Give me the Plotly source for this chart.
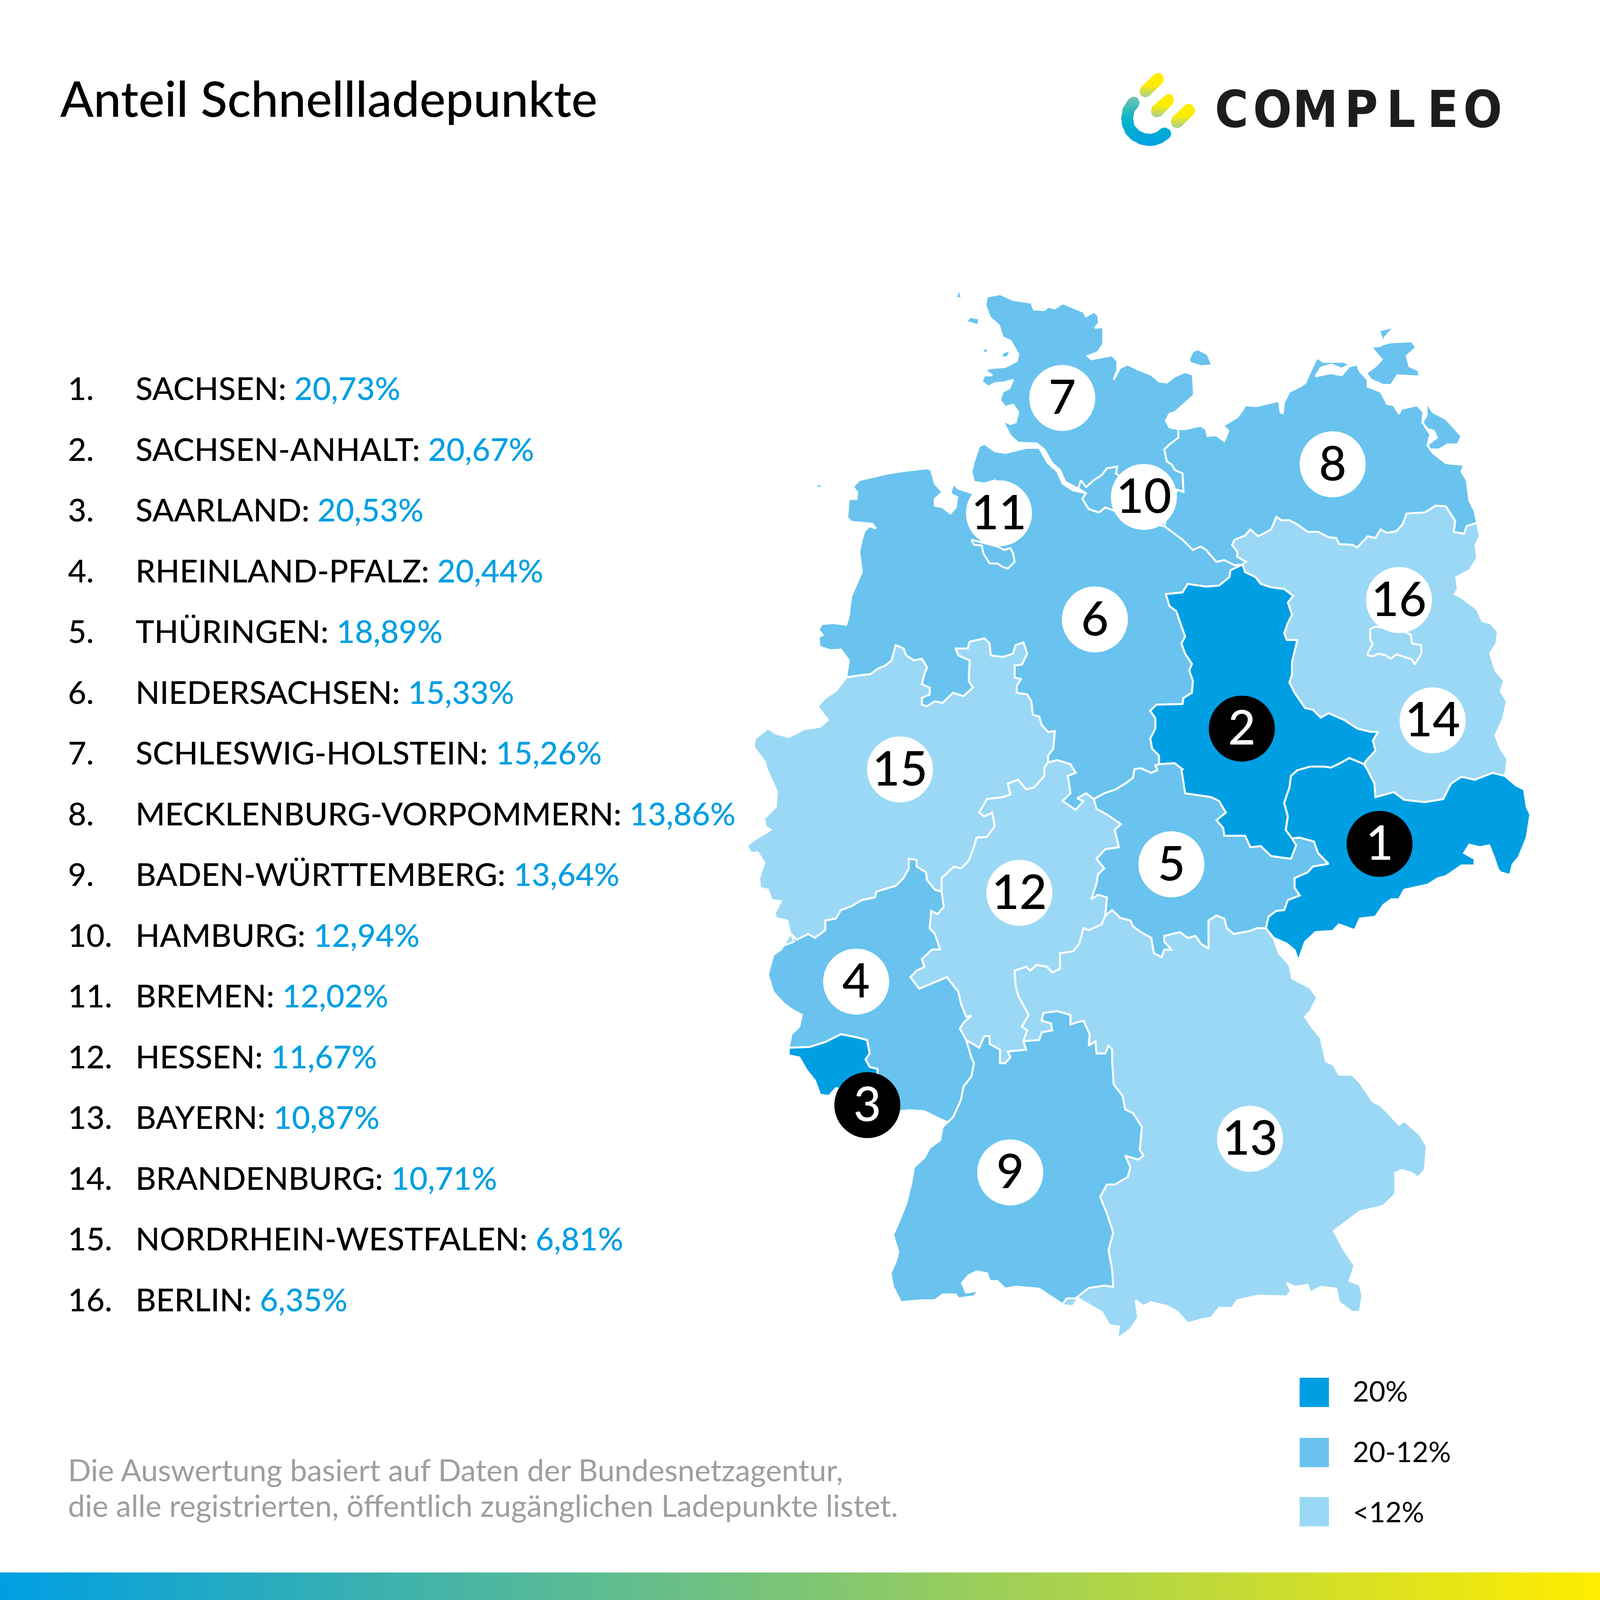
import plotly.graph_objects as go

# ranking
STATES = ["SACHSEN", "SACHSEN-ANHALT", "SAARLAND", "RHEINLAND-PFALZ", "THÜRINGEN", "NIEDERSACHSEN",
          "SCHLESWIG-HOLSTEIN", "MECKLENBURG-VORPOMMERN", "BADEN-WÜRTTEMBERG", "HAMBURG", "BREMEN",
          "HESSEN", "BAYERN", "BRANDENBURG", "NORDRHEIN-WESTFALEN", "BERLIN"]
SHARES = [20.73, 20.67, 20.53, 20.44, 18.89, 15.33, 15.26, 13.86, 13.64, 12.94, 12.02, 11.67, 10.87, 10.71, 6.81, 6.35]
# map class of each land, as the map shows it (Rheinland-Pfalz is in the middle class there)
CLASSES = [0, 0, 0, 1, 1, 1, 1, 1, 1, 1, 1, 2, 2, 2, 2, 2]
LEGEND_LABELS = ["20%", "20-12%", "<12%"]
LOGO_LETTERS = ["C", "O", "M", "P", "L", "E", "O"]

# page is measured in units of 1568 across
CLASS_COLORS = ["#009FE3", "#69C3EE", "#9BD8F6"]
NUMBER_X = [1352, 1217, 850, 839, 1148, 1073, 1041, 1306, 990, 1121, 979, 999, 1225, 1404, 882, 1371]
NUMBER_Y = [827, 714, 1083, 962, 847, 607, 390, 455, 1149, 487, 503, 875, 1116, 706, 754, 588]
LOGO_X = [1207, 1247, 1289, 1334, 1373, 1414, 1453]


# outlines were traced on two crops of the map, these put them on the page
def north(pts):
    return [(714.3 + 0.511 * x, 243.9 + y / 3) for x, y in pts]


def south(pts):
    return [(714.3 + 0.511 * x, 749.1 + 0.3778 * y) for x, y in pts]


def logo(pts):
    return [(1062.7 + 0.2889 * x, 52.3 + 0.1161 * y) for x, y in pts]


SH_COAST = north([(605, 590), (590, 572), (555, 570), (540, 550), (525, 505), (540, 515), (550, 510), (555, 480), (545, 458), (530, 465), (520, 445), (525, 420), (538, 410), (545, 385), (530, 392), (510, 395), (497, 405), (485, 390), (490, 372), (505, 372), (490, 355), (505, 350), (530, 347), (552, 330), (555, 310), (540, 270), (525, 260), (518, 225), (500, 200), (492, 165), (495, 140), (520, 133), (545, 150), (580, 158), (585, 178), (605, 180), (612, 170), (625, 175), (640, 160), (660, 172), (680, 185), (685, 198), (700, 185), (708, 195), (710, 218), (702, 232), (718, 230), (718, 280), (708, 303), (688, 315), (695, 325), (735, 313), (745, 330), (745, 355), (738, 385), (750, 350), (765, 340), (785, 355), (810, 370), (825, 390), (840, 393), (855, 375), (875, 362), (890, 370), (892, 430), (870, 460), (855, 480), (845, 485), (838, 505), (845, 525), (862, 530)])
SH_MV = north([(862, 530), (862, 555), (845, 575), (835, 590), (840, 625), (850, 635), (855, 650), (870, 660), (872, 715)])
SH_SOUTH = north([(872, 715), (860, 708), (845, 760), (835, 815)])
ELBE_HH = north([(835, 815), (790, 805), (740, 770), (722, 760), (710, 775), (690, 765), (678, 735), (685, 718)])
SH_ELBE = north([(685, 718), (670, 705), (645, 685), (635, 650), (620, 630), (605, 590)])
FEHMARN = north([(882, 325), (890, 300), (900, 295), (918, 310), (927, 342), (905, 345), (885, 335)])
SYLT = north([(455, 70), (445, 100), (435, 145), (462, 143), (445, 138), (442, 115)])
FOEHR = north([(455, 215), (462, 200), (480, 205), (478, 225), (465, 218)])
AMRUM = north([(438, 232), (445, 250), (442, 236)])
PELLWORM = north([(488, 295), (498, 290), (495, 305), (488, 308)])
NORDSTRAND = north([(525, 305), (540, 298), (535, 318), (522, 320)])
HAMBURG = north([(675, 680), (685, 700), (700, 680), (715, 665), (725, 645), (745, 640), (742, 660), (755, 675), (790, 720), (740, 770), (722, 760), (710, 775), (690, 765), (678, 735), (685, 718), (670, 705)])
BREMEN = north([(465, 855), (470, 870), (485, 872), (488, 895), (500, 925), (515, 925), (525, 935), (535, 940), (548, 920), (545, 895), (540, 880), (528, 885), (515, 875)])
NDS_COAST = north([(685, 718), (660, 710), (640, 690), (630, 655), (612, 630), (595, 585), (570, 585), (550, 592), (530, 600), (510, 595), (490, 573), (480, 580), (470, 625), (465, 655), (470, 685), (490, 690), (512, 680), (470, 720), (440, 705), (430, 690), (425, 720), (438, 730), (435, 760), (425, 778), (410, 760), (395, 755), (395, 735), (410, 715), (395, 690), (388, 650), (380, 645), (325, 655), (300, 662), (250, 680), (238, 700), (246, 715), (245, 735), (230, 735), (227, 790), (235, 803), (275, 808), (282, 822), (270, 815), (260, 830), (255, 855), (250, 890), (255, 950), (235, 1020), (232, 1050), (230, 1080), (225, 1105), (200, 1100), (178, 1103), (172, 1120), (180, 1135), (172, 1142), (174, 1170), (195, 1180), (215, 1178), (230, 1210), (225, 1260)])
FRISIAN = [north([(248, 648), (272, 642), (295, 642), (272, 648)]), north([(300, 632), (320, 628), (303, 638)]), north([(336, 622), (350, 620), (342, 626)]), north([(165, 695), (185, 688), (172, 705)])]
NDS_NRW = north([(225, 1260), (245, 1255), (272, 1250), (285, 1235), (300, 1225), (312, 1210), (320, 1165), (335, 1175), (340, 1195), (355, 1210), (370, 1205), (380, 1230), (375, 1250), (370, 1280), (385, 1290), (385, 1310), (370, 1320), (370, 1340), (380, 1345), (395, 1330), (410, 1335), (430, 1305), (450, 1315), (468, 1290), (460, 1270), (462, 1210), (440, 1195), (435, 1175), (458, 1175), (462, 1155), (490, 1145), (500, 1160), (502, 1195), (525, 1200), (545, 1190), (550, 1165), (565, 1157), (572, 1190), (562, 1222), (548, 1225), (548, 1260), (560, 1265), (552, 1285), (552, 1305), (572, 1310), (580, 1330), (583, 1370), (595, 1375), (600, 1400), (612, 1420), (625, 1418), (622, 1470), (612, 1490), (612, 1510)])
NDS_HE = north([(612, 1510), (630, 1503), (655, 1515), (665, 1540)]) + south([(650, 30), (655, 75), (640, 95), (665, 118), (680, 95), (668, 88), (685, 75), (700, 90)])
NDS_TH = south([(700, 90), (720, 75), (742, 65), (760, 50), (775, 35), (778, 12), (790, 10), (810, 22), (822, 15), (818, 3)])
NDS_ST = north([(825, 1515), (825, 1490), (812, 1470), (808, 1440), (818, 1410), (818, 1380), (808, 1358), (820, 1340), (870, 1338), (872, 1320), (888, 1305), (890, 1270), (883, 1240), (888, 1220), (875, 1190), (868, 1160), (875, 1140), (868, 1110), (858, 1065), (845, 1050), (838, 1015), (870, 1010), (880, 985), (915, 993), (940, 990), (960, 965), (962, 945), (985, 928)])
NDS_EAST = north([(985, 928), (970, 930), (950, 915), (935, 920), (915, 885), (905, 875), (890, 885), (870, 855), (835, 815)])
MV_COAST = north([(862, 530), (875, 530), (905, 520), (915, 530), (918, 550), (935, 548), (950, 565), (958, 535), (948, 520), (965, 505), (975, 495), (985, 475), (990, 460), (1012, 462), (1055, 447), (1058, 480), (1062, 483), (1065, 450), (1075, 420), (1095, 405), (1105, 395), (1120, 345), (1128, 320), (1140, 332), (1178, 332), (1192, 340), (1175, 352), (1155, 340), (1135, 350), (1125, 375), (1155, 365), (1175, 372), (1190, 345), (1205, 340), (1210, 360), (1225, 385), (1225, 405), (1250, 420), (1262, 455), (1275, 460), (1285, 485), (1290, 470), (1320, 460), (1332, 480), (1330, 510), (1345, 545), (1340, 578), (1350, 600), (1375, 630), (1410, 635), (1405, 655), (1415, 680), (1420, 740), (1430, 770), (1435, 805)])
RUEGEN = north([(1247, 240), (1277, 229), (1258, 260), (1252, 282), (1268, 275), (1310, 272), (1318, 290), (1300, 315), (1305, 345), (1322, 357), (1325, 375), (1282, 372), (1270, 400), (1255, 400), (1232, 385), (1222, 365), (1240, 345), (1252, 325), (1235, 295), (1226, 290), (1250, 285), (1252, 262)])
USEDOM = north([(1338, 452), (1350, 480), (1375, 500), (1405, 550), (1398, 575), (1378, 575), (1362, 590), (1345, 590), (1340, 575), (1358, 555), (1352, 535), (1340, 530), (1330, 510), (1338, 490)])
MV_BB = north([(1435, 805), (1415, 815), (1410, 838), (1390, 832), (1393, 800), (1375, 757), (1355, 755), (1335, 775), (1300, 778), (1292, 810), (1280, 830), (1262, 835), (1250, 825), (1240, 850), (1225, 845), (1205, 878), (1195, 870), (1170, 868), (1165, 850), (1150, 848), (1130, 832), (1110, 832), (1090, 810), (1075, 798), (1060, 798), (1050, 788), (1040, 825), (1015, 845), (1000, 825), (990, 843), (970, 855), (965, 870), (975, 890), (975, 905), (992, 920), (985, 928)])
BB_EAST = north([(1435, 805), (1440, 845), (1432, 870), (1435, 910), (1420, 945), (1395, 965), (1398, 1000), (1392, 1015), (1405, 1025), (1435, 1060), (1445, 1095), (1460, 1100), (1475, 1125), (1472, 1160), (1460, 1190), (1470, 1240), (1487, 1270), (1480, 1300), (1492, 1330), (1485, 1380), (1470, 1430), (1480, 1470), (1493, 1500), (1490, 1540)]) + south([(1488, 30)])
BB_SN = south([(1488, 30), (1465, 22), (1430, 40), (1405, 32), (1385, 50), (1370, 90), (1335, 98), (1295, 92), (1275, 72), (1240, 85), (1238, 50), (1225, 15)]) + north([(1218, 1515)])
BB_ST = north([(1218, 1515), (1222, 1505), (1240, 1475), (1235, 1445), (1245, 1420), (1230, 1420), (1205, 1410), (1180, 1385), (1150, 1365), (1135, 1378), (1120, 1355), (1105, 1350), (1085, 1305), (1075, 1275), (1080, 1250), (1080, 1215), (1090, 1150), (1070, 1150), (1065, 1130), (1072, 1100), (1080, 1075), (1072, 1040), (1082, 1020), (1065, 1000), (1040, 995), (1020, 985), (1010, 965), (990, 950), (985, 928)])
BERLIN = north([(1240, 1110), (1230, 1118), (1230, 1150), (1235, 1160), (1225, 1190), (1225, 1195), (1235, 1198), (1245, 1190), (1260, 1195), (1270, 1205), (1280, 1192), (1310, 1207), (1315, 1222), (1328, 1190), (1328, 1165), (1310, 1160), (1308, 1135), (1295, 1125)])
ST_TH = north([(825, 1515), (855, 1512), (870, 1530)]) + south([(868, 15), (875, 75), (925, 85), (940, 95), (953, 125), (935, 145), (948, 165), (950, 185), (990, 185), (1000, 215), (1020, 212), (1040, 238), (1078, 245), (1088, 210), (1080, 192)])
ST_SN = south([(1080, 192), (1068, 170), (1072, 135), (1065, 100), (1075, 60), (1078, 30)]) + north([(1090, 1533), (1115, 1522), (1140, 1522), (1155, 1525), (1175, 1510), (1190, 1497), (1218, 1515)])
SN_EAST = south([(1488, 30), (1510, 55), (1525, 65), (1530, 110), (1537, 130), (1530, 190), (1515, 240), (1503, 260), (1498, 287), (1480, 280), (1475, 272), (1467, 240), (1458, 210), (1440, 215), (1420, 208), (1410, 230), (1430, 245), (1430, 262), (1405, 262), (1375, 290), (1360, 295), (1340, 312), (1295, 325), (1285, 350), (1270, 350), (1255, 365), (1240, 395), (1210, 400), (1200, 430), (1170, 415), (1158, 432), (1125, 435), (1105, 460), (1092, 510), (1085, 482), (1070, 465), (1045, 450), (1030, 425)])
SN_TH = south([(1030, 425), (1035, 395), (1050, 380), (1065, 378), (1072, 352), (1095, 340), (1085, 320), (1085, 295), (1110, 280), (1120, 265), (1150, 258), (1130, 230), (1122, 200), (1095, 190), (1080, 192)])
TH_BY = south([(1030, 425), (1012, 425), (1000, 432), (968, 440), (955, 425), (950, 400), (935, 392), (920, 405), (920, 478), (905, 465), (895, 445), (880, 450), (865, 435), (835, 445), (835, 460), (850, 482), (835, 480), (830, 500), (815, 490), (810, 450), (790, 435), (775, 420), (770, 405), (750, 398), (735, 378), (722, 392)])
HE_TH = south([(722, 392), (725, 345), (708, 338), (695, 350), (705, 310), (708, 285), (720, 270), (705, 245), (722, 220), (748, 215), (740, 170), (752, 155), (725, 130), (705, 115), (700, 90)])
HE_NRW = south([(408, 330), (408, 295), (420, 280), (432, 265), (445, 270), (460, 250), (470, 215), (475, 190), (495, 188), (510, 160), (505, 125), (490, 135), (480, 125), (495, 90), (525, 85), (540, 78), (535, 50), (555, 40), (570, 65), (585, 60), (605, 30), (605, 8)])
HE_RP = south([(408, 330), (412, 370), (400, 388), (388, 380), (385, 425), (395, 440), (405, 480), (390, 480), (370, 505), (375, 525), (360, 535), (348, 552), (365, 582), (395, 565), (418, 552), (440, 590), (445, 620), (455, 655), (465, 652), (450, 670), (443, 685), (455, 715)])
HE_BW = south([(455, 715), (480, 735), (490, 705), (500, 705), (500, 725), (520, 740), (520, 775), (530, 775), (540, 760), (535, 745), (570, 740), (565, 718)])
HE_BY = south([(722, 392), (715, 415), (690, 430), (680, 425), (672, 465), (660, 485), (635, 490), (635, 530), (620, 540), (610, 525), (590, 520), (578, 535), (570, 525), (548, 535), (550, 575), (555, 600), (565, 625), (575, 650), (562, 680), (572, 690), (565, 718)])
BY_BW = south([(565, 718), (595, 715), (600, 695), (620, 690), (618, 672), (600, 665), (603, 645), (630, 640), (655, 650), (655, 675), (665, 670), (680, 665), (692, 700), (690, 730), (703, 718), (705, 750), (722, 750), (728, 730), (735, 740), (735, 770), (738, 830), (755, 860), (760, 895), (775, 905), (792, 940), (788, 1000), (795, 1015), (785, 1025), (760, 1015), (770, 1045), (765, 1070), (740, 1090), (725, 1090), (712, 1122), (725, 1165), (737, 1215), (728, 1260), (735, 1310), (737, 1355), (720, 1352), (690, 1358), (665, 1385), (648, 1385), (640, 1400)])
BY_EAST = south([(1030, 425), (1045, 452), (1055, 490), (1075, 520), (1080, 555), (1115, 580), (1128, 605), (1115, 640), (1105, 655), (1120, 685), (1135, 710), (1145, 770), (1160, 780), (1170, 805), (1195, 805), (1210, 825), (1235, 875), (1250, 885), (1268, 910), (1285, 935), (1295, 925), (1325, 960), (1338, 990), (1335, 1050), (1322, 1072), (1310, 1060), (1290, 1052), (1278, 1060), (1278, 1115), (1255, 1145), (1210, 1160), (1185, 1185), (1160, 1210), (1180, 1260), (1200, 1300), (1190, 1340), (1210, 1350), (1215, 1380), (1210, 1420), (1195, 1420), (1170, 1395), (1165, 1360), (1135, 1355), (1115, 1370), (1110, 1350), (1085, 1355), (1070, 1345), (1078, 1365), (1070, 1380), (1015, 1378), (975, 1390), (965, 1410), (940, 1410), (925, 1435), (905, 1440), (880, 1450), (860, 1420), (840, 1405), (810, 1395), (795, 1405), (780, 1390), (785, 1435), (770, 1465), (745, 1490), (748, 1458), (730, 1455), (715, 1420), (695, 1405), (670, 1385), (660, 1405), (642, 1403), (640, 1400)])
BW_COAST = south([(420, 928), (410, 940), (405, 975), (385, 995), (375, 1020), (355, 1045), (350, 1085), (340, 1140), (325, 1190), (315, 1220), (325, 1265), (320, 1290), (310, 1320), (315, 1355), (330, 1395), (370, 1390), (395, 1390), (410, 1375), (435, 1375), (440, 1385), (470, 1380), (480, 1365), (455, 1370), (447, 1345), (460, 1325), (475, 1315), (495, 1320), (500, 1340), (515, 1340), (530, 1360), (550, 1355), (595, 1360), (640, 1400)])
RP_BW = south([(455, 715), (465, 760), (470, 775), (465, 810), (450, 835), (445, 870), (430, 915), (420, 928)])
RP_NRW = south([(408, 330), (395, 325), (380, 300), (378, 280), (360, 265), (360, 248), (345, 245), (345, 270), (335, 295), (320, 315), (295, 325), (283, 330), (280, 345), (255, 352), (235, 368), (215, 378), (205, 400), (185, 405), (185, 430), (165, 450), (152, 440), (130, 455), (120, 440), (125, 460), (105, 470)])
RP_WEST = south([(105, 470), (100, 480), (85, 495), (80, 520), (75, 545), (85, 590), (105, 620), (120, 635), (140, 650), (135, 680), (120, 700), (115, 735)])
SAAR_TOP = south([(115, 735), (155, 733), (185, 720), (215, 700), (245, 708), (265, 715), (270, 750), (262, 765), (270, 785), (285, 790), (285, 800)])
SAAR_SOUTH = south([(285, 800), (280, 850), (205, 840), (192, 860), (175, 857), (165, 820), (150, 795), (135, 760), (115, 755), (115, 735)])
RP_SOUTH = south([(285, 800), (290, 895), (328, 900), (345, 897), (375, 900), (405, 920), (420, 928)])
NRW_WEST = south([(105, 470), (118, 440), (112, 405), (90, 398), (88, 385), (100, 355), (82, 352), (75, 325), (60, 320), (58, 295), (68, 255), (55, 228), (42, 230), (35, 210), (50, 195), (80, 170), (70, 160), (68, 140), (90, 110), (92, 70), (72, 10)]) + north([(70, 1510), (48, 1465), (50, 1440), (75, 1410), (90, 1425), (115, 1435), (145, 1412), (175, 1405), (190, 1385), (170, 1345), (185, 1320), (205, 1300), (225, 1260)])

PILL_1 = logo([(238, 175), (250, 165), (262, 172), (270, 215), (265, 250), (220, 360), (207, 372), (193, 360), (187, 320), (192, 285)])
PILL_2 = logo([(275, 353), (285, 343), (298, 350), (304, 392), (299, 428), (260, 530), (245, 540), (232, 530), (225, 495), (230, 450)])
PILL_3 = logo([(342, 435), (352, 425), (365, 432), (376, 475), (372, 510), (328, 620), (315, 632), (300, 620), (293, 580), (298, 540)])
LOGO_C = logo([(150, 385), (165, 365), (180, 375), (188, 415), (183, 450), (170, 490), (165, 550), (170, 610), (185, 650), (205, 675), (225, 680), (245, 665), (262, 630), (275, 625), (290, 645), (295, 680), (290, 710), (265, 755), (240, 778), (220, 782), (190, 770), (160, 730), (140, 680), (128, 610), (125, 545), (130, 465)])


def rev(seg):
    return seg[::-1]


# each land as a ring of its shared borders
OUTLINES = {
    "SCHLESWIG-HOLSTEIN": [SH_COAST + SH_MV + SH_SOUTH + ELBE_HH + SH_ELBE, FEHMARN, SYLT, FOEHR, AMRUM, PELLWORM, NORDSTRAND],
    "NIEDERSACHSEN": [NDS_COAST + NDS_NRW + NDS_HE + NDS_TH + NDS_ST + NDS_EAST + ELBE_HH] + FRISIAN,
    "MECKLENBURG-VORPOMMERN": [MV_COAST + MV_BB + NDS_EAST + rev(SH_SOUTH) + rev(SH_MV), RUEGEN, USEDOM],
    "HAMBURG": [HAMBURG],
    "BREMEN": [BREMEN],
    "BRANDENBURG": [MV_BB + rev(BB_ST) + rev(BB_SN) + rev(BB_EAST)],
    "BERLIN": [BERLIN],
    "NORDRHEIN-WESTFALEN": [NDS_NRW + rev(HE_NRW) + RP_NRW + NRW_WEST],
    "SACHSEN-ANHALT": [NDS_ST + rev(BB_ST) + rev(ST_SN) + rev(ST_TH)],
    "HESSEN": [NDS_HE + rev(HE_TH) + HE_BY + rev(HE_BW) + rev(HE_RP) + HE_NRW],
    "THÜRINGEN": [NDS_TH + ST_TH + rev(SN_TH) + TH_BY + HE_TH],
    "BAYERN": [BY_EAST + rev(BY_BW) + rev(HE_BY) + rev(TH_BY)],
    "SACHSEN": [ST_SN + rev(BB_SN) + SN_EAST + SN_TH],
    "BADEN-WÜRTTEMBERG": [HE_BW + BY_BW + rev(BW_COAST) + rev(RP_BW)],
    "RHEINLAND-PFALZ": [RP_NRW + RP_WEST + SAAR_TOP + RP_SOUTH + rev(RP_BW) + rev(HE_RP)],
    "SAARLAND": [SAAR_TOP + SAAR_SOUTH],
}


def ring_trace(pts, color, line_color="white", line_width=5):
    xs = [p[0] for p in pts] + [pts[0][0]]
    ys = [p[1] for p in pts] + [pts[0][1]]
    return go.Scatter(x=xs, y=ys, mode="lines", fill="toself", fillcolor=color,
                      line=dict(color=line_color, width=line_width), hoverinfo="skip")


fig = go.Figure()

for name, rings in OUTLINES.items():
    color = CLASS_COLORS[CLASSES[STATES.index(name)]]
    for ring in rings:
        fig.add_trace(ring_trace(ring, color))

# numbered discs, top three are black
disc_colors = ["black" if i < 3 else "white" for i in range(16)]
text_colors = ["white" if i < 3 else "black" for i in range(16)]
fig.add_trace(go.Scatter(
    x=NUMBER_X, y=NUMBER_Y, mode="markers",
    marker=dict(size=169, color=disc_colors, line=dict(width=0)),
))
# plotly sets the digits a little high, so they get their own trace
fig.add_trace(go.Scatter(
    x=NUMBER_X, y=[v + 4 for v in NUMBER_Y], mode="text",
    text=[str(i + 1) for i in range(16)], textposition="middle center",
    textfont=dict(family="Lato", size=122, color=text_colors, weight=500),
))

# legend squares
fig.add_trace(go.Scatter(
    x=[1288, 1288, 1288], y=[1364.5, 1423.5, 1481.5], mode="markers",
    marker=dict(size=75, symbol="square", color=CLASS_COLORS, line=dict(width=0)),
))

# gradient strip at the bottom
fig.add_trace(go.Scatter(
    x=[0, 1568, 1568, 0, 0], y=[1541, 1541, 1568, 1568, 1541], mode="lines", fill="toself",
    line=dict(width=0),
    fillgradient=dict(type="horizontal", start=0, stop=1568,
                      colorscale=[[0, "#009FE3"], [0.5, "#7CC576"], [1, "#FFEC00"]]),
))

# logo
for pill in [PILL_1, PILL_2, PILL_3]:
    top = min(p[1] for p in pill)
    bottom = max(p[1] for p in pill)
    fig.add_trace(go.Scatter(
        x=[p[0] for p in pill] + [pill[0][0]], y=[p[1] for p in pill] + [pill[0][1]],
        mode="lines", fill="toself", line=dict(width=0),
        fillgradient=dict(type="vertical", start=bottom, stop=top,
                          colorscale=[[0, "#A9CF8E"], [0.5, "#FFED00"], [1, "#FFED00"]]),
    ))
fig.add_trace(go.Scatter(
    x=[p[0] for p in LOGO_C] + [LOGO_C[0][0]], y=[p[1] for p in LOGO_C] + [LOGO_C[0][1]],
    mode="lines", fill="toself", line=dict(width=0),
    fillgradient=dict(type="vertical", start=143, stop=94,
                      colorscale=[[0, "#00A0E3"], [0.5, "#00B4C8"], [1, "#7CC4AE"]]),
))
fig.add_trace(go.Scatter(
    x=LOGO_X, y=[112] * 7, mode="text", text=LOGO_LETTERS, textposition="middle center",
    textfont=dict(family="DejaVu Sans Condensed, DejaVu Sans", size=130, color="#1D1D1B", weight="bold"),
))

notes = []


def note(x, y, text, size, color="black", weight=400):
    notes.append(dict(x=x, y=y, xref="x", yref="y", text=text, showarrow=False, xanchor="left",
                      yanchor="middle", font=dict(family="Lato", size=size, color=color, weight=weight)))


note(58, 96, "Anteil Schnellladepunkte", 126, weight=500)
for i, (name, share) in enumerate(zip(STATES, SHARES)):
    row_y = 380 + i * 59.53
    note(66, row_y, f"{i + 1}.", 81, weight=500)
    value = f"{share:.2f}%".replace(".", ",")
    note(132, row_y, f'{name}: <span style="color:{CLASS_COLORS[0]}">{value}</span>', 81, weight=500)
note(66, 1440, "Die Auswertung basiert auf Daten der Bundesnetzagentur,", 77.7, "#9D9EA1")
note(66, 1475, "die alle registrierten, öffentlich zugänglichen Ladepunkte listet.", 77.7, "#9D9EA1")
for label, y in zip(LEGEND_LABELS, [1363, 1422, 1481]):
    note(1325, y, label, 72)

fig.update_layout(
    margin=dict(l=0, r=0, t=0, b=0),
    paper_bgcolor="white", plot_bgcolor="white", showlegend=False,
    xaxis=dict(range=[0, 1568], visible=False),
    yaxis=dict(range=[1568, 0], visible=False),
    annotations=notes,
)

# the page keeps its default body margin otherwise and the strip stops short of the edges
fig.write_html("out.html", config=dict(displayModeBar=False),
               post_script="document.body.style.margin='0';Plotly.Plots.resize('{plot_id}');")
